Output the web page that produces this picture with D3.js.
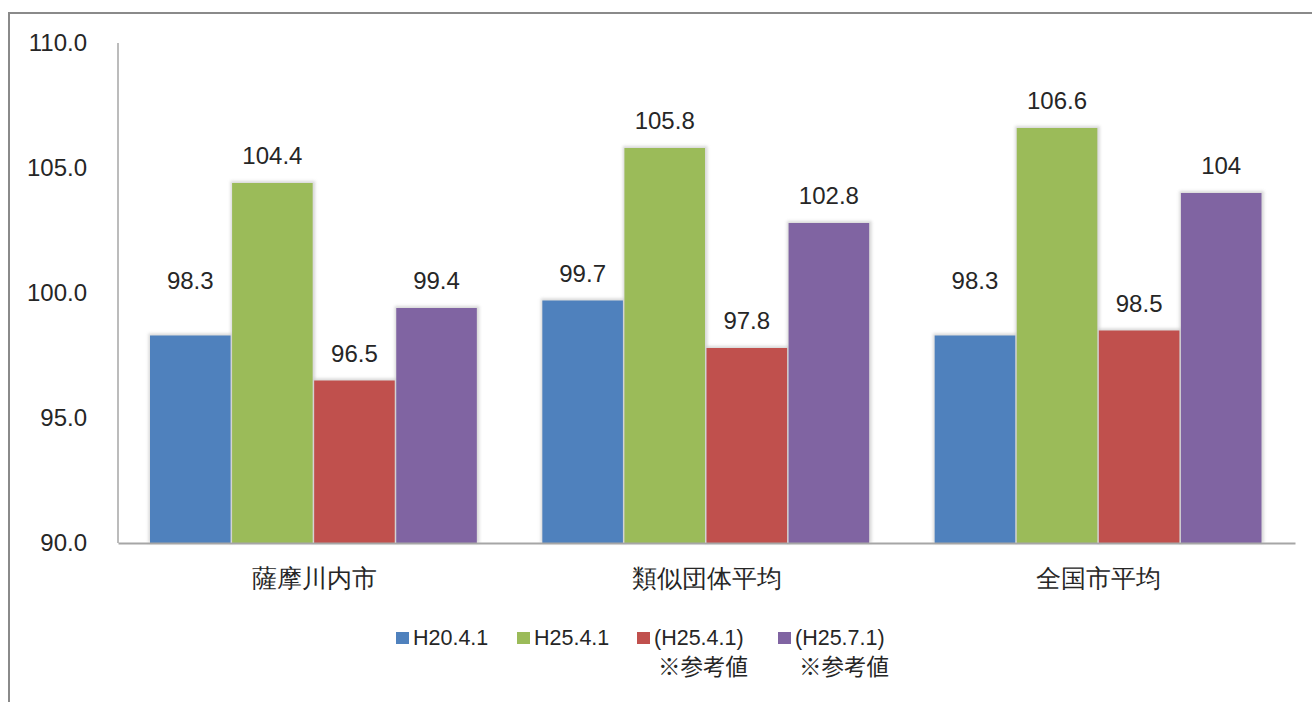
<!DOCTYPE html>
<html><head><meta charset="utf-8">
<script src="https://cdn.jsdelivr.net/npm/d3@7"></script>
<style>
html,body{margin:0;padding:0;background:#fff;}
svg{display:block;}
text{font-family:"Liberation Sans",Arial,sans-serif;fill:#262626;}
.cjk{font-family:"Noto Sans CJK JP","Liberation Sans",sans-serif;}
</style></head>
<body>
<script>
const categories = ["薩摩川内市","類似団体平均","全国市平均"];
const seriesNames = ["H20.4.1","H25.4.1","(H25.4.1)","(H25.7.1)"];
const seriesNotes = ["","","※参考値","※参考値"];
const seriesColors = ["#4f81bd","#9bbb59","#c0504d","#8064a2"];
const valuesH20 = [98.3, 99.7, 98.3];
const valuesH25 = [104.4, 105.8, 106.6];
const valuesH25ref = [96.5, 97.8, 98.5];
const valuesH257ref = [99.4, 102.8, 104];
const labelTexts = [["98.3","104.4","96.5","99.4"],["99.7","105.8","97.8","102.8"],["98.3","106.6","98.5","104"]];
const yTicks = [90,95,100,105,110];
const yDomain = [90,110];

(function(){
const W=1312,H=702;
const mLeft=118,mRight=1295,mTop=43,mBottom=543;
const svg=d3.select("body").append("svg").attr("width",W).attr("height",H);

// outer frame
svg.append("path").attr("d",`M9,${H+5} L9,13 L${W+5},13`).attr("fill","none").attr("stroke","#8a8a8a").attr("stroke-width",2);

const defs=svg.append("defs");
const f=defs.append("filter").attr("id","glow").attr("x","-20%").attr("y","-20%").attr("width","140%").attr("height","140%");
f.append("feGaussianBlur").attr("stdDeviation",1.6);

const x0=d3.scaleBand().domain(categories).range([mLeft,mRight]).paddingInner(0).paddingOuter(0);
const x1=d3.scaleBand().domain(seriesNames).range([32,x0.bandwidth()-32]).padding(0);
const y=d3.scaleLinear().domain(yDomain).range([mBottom,mTop]);

const allSeries=[valuesH20,valuesH25,valuesH25ref,valuesH257ref];
const data=[];
categories.forEach((c,ci)=>{
  seriesNames.forEach((s,si)=>{
    data.push({c,ci,s,si,v:allSeries[si][ci],label:labelTexts[ci][si]});
  });
});

// y axis labels
const yAxis=d3.axisLeft(y).tickValues(yTicks).tickFormat(d3.format(".1f")).tickSize(0).tickPadding(31);
const ga=svg.append("g").attr("transform",`translate(${mLeft},0)`).call(yAxis);
ga.select(".domain").remove();
ga.selectAll("text").attr("font-size",24).attr("font-family","Liberation Sans, Arial, sans-serif").attr("fill","#262626").attr("dy","0.32em");

// bars shadow
const bw=x1.bandwidth()-1.5;
svg.append("g").selectAll("rect").data(data).join("rect")
 .attr("x",d=>x0(d.c)+x1(d.s)-1.5)
 .attr("y",d=>y(d.v)-2)
 .attr("width",bw+4)
 .attr("height",d=>mBottom-y(d.v)+2)
 .attr("fill","#c8c8c8").attr("filter","url(#glow)").attr("opacity",0.7);

svg.append("g").selectAll("rect").data(data).join("rect")
 .attr("x",d=>x0(d.c)+x1(d.s))
 .attr("y",d=>y(d.v))
 .attr("width",bw)
 .attr("height",d=>mBottom-y(d.v))
 .attr("fill",d=>seriesColors[d.si]);

// axis lines
svg.append("line").attr("x1",mLeft).attr("x2",mLeft).attr("y1",mTop).attr("y2",mBottom).attr("stroke","#a6a6a6").attr("stroke-width",1.5);
const xAxis=d3.axisBottom(x0).tickSize(0).tickPadding(0);
const gx=svg.append("g").attr("transform",`translate(0,${mBottom})`).call(xAxis);
gx.select(".domain").attr("stroke","#a6a6a6").attr("stroke-width",2);
gx.selectAll("text").attr("font-size",25).attr("font-family","Noto Sans CJK JP, sans-serif").attr("fill","#262626").attr("dy",null).attr("y",44);

// value labels (two low labels lifted to clear neighbours)
const lowLabel = new Set(["0-0","2-0"]);
svg.append("g").selectAll("text").data(data).join("text")
 .attr("x",d=>x0(d.c)+x1(d.s)+bw/2)
 .attr("y",d=>y(d.v)-(lowLabel.has(d.ci+"-"+d.si)?47:19))
 .attr("text-anchor","middle").attr("font-size",24)
 .text(d=>d.label);

// legend
const legX=[396,517,637,778];
const lg=svg.append("g");
seriesNames.forEach((s,i)=>{
  const g=lg.append("g").attr("transform",`translate(${legX[i]},0)`);
  g.append("rect").attr("x",0).attr("y",632).attr("width",13).attr("height",12).attr("fill",seriesColors[i]);
  g.append("text").attr("x",17).attr("y",645).attr("font-size",21.5).text(s);
  if(seriesNotes[i]) g.append("text").attr("class","cjk").attr("x",21).attr("y",675).attr("font-size",22.5).text(seriesNotes[i]);
});
})();
</script>
</body></html>
